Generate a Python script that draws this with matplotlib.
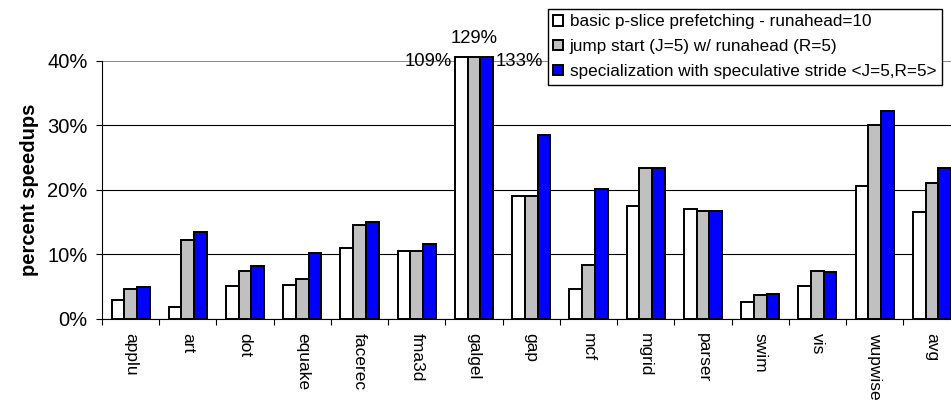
import numpy as np
import matplotlib.pyplot as plt
from matplotlib.ticker import PercentFormatter, FixedLocator

plt.rcParams['font.family'] = ['Liberation Sans', 'DejaVu Sans']

benchmarks = ["applu", "art", "dot", "equake", "facerec", "fma3d", "galgel",
              "gap", "mcf", "mgrid", "parser", "swim", "vis", "wupwise", "avg"]
basic = [2.9, 1.8, 5.1, 5.2, 10.9, 10.5, 109, 19.0, 4.65, 17.5, 17.0, 2.65, 5.0, 20.5, 16.6]
jump = [4.65, 12.2, 7.45, 6.1, 14.5, 10.5, 129, 19.0, 8.3, 23.4, 16.75, 3.7, 7.45, 30.1, 21.0]
special = [4.9, 13.4, 8.1, 10.2, 15.0, 11.6, 133, 28.5, 20.1, 23.4, 16.75, 3.9, 7.2, 32.2, 23.4]

series_names = ["basic p-slice prefetching - runahead=10",
                "jump start (J=5) w/ runahead (R=5)",
                "specialization with speculative stride <J=5,R=5>"]
colors = ["white", "#c0c0c0", "#0000ff"]

fig = plt.figure(figsize=(9.51, 4.04), dpi=100)
ax = fig.add_axes([102 / 951, 1 - 318.7 / 404, 858.5 / 951, 258 / 404])

x = np.arange(len(benchmarks))
w = 0.222
ytop = 40
clip_top = 40.5  # bars that go off the scale stop just above the top line

for i, vals in enumerate([basic, jump, special]):
    vals = np.array(vals, dtype=float)
    ax.bar(x + (i - 1) * w, np.minimum(vals, clip_top), w, color=colors[i],
           edgecolor="black", linewidth=1.4, label=series_names[i],
           zorder=3, clip_on=False)

# labels for the off-scale galgel bars
g = benchmarks.index("galgel")
afs = 13.3
ax.text(x[g] - 1.5 * w - 0.05, ytop - 0.2, f"{basic[g]:g}%", ha="right", va="center", fontsize=afs, zorder=4)
ax.text(x[g], ytop + 3.5, f"{jump[g]:g}%", ha="center", va="center", fontsize=afs, clip_on=False)
ax.text(x[g] + 1.5 * w + 0.05, ytop - 0.2, f"{special[g]:g}%", ha="left", va="center", fontsize=afs, zorder=4)

ax.set_xlim(-0.5, len(benchmarks) - 0.5)
ax.set_ylim(0, ytop)
ax.set_yticks([0, 10, 20, 30, 40])
ax.yaxis.set_major_formatter(PercentFormatter(xmax=100, decimals=0))
ax.grid(axis="y", color="black", linewidth=0.8, zorder=0)
ax.get_ygridlines()[-1].set_color("#808080")
ax.get_ygridlines()[-1].set_linewidth(1.3)
ax.set_axisbelow(True)

ax.set_xticks(x)
ax.set_xticklabels(benchmarks, rotation=270, fontsize=12.5)
ax.xaxis.set_minor_locator(FixedLocator(np.arange(len(benchmarks) + 1) - 0.5))
ax.tick_params(axis="x", which="major", length=0, pad=10.5)
ax.tick_params(axis="x", which="minor", length=4.5, width=0.8, direction="out")
ax.tick_params(axis="y", length=4.5, width=0.8, direction="out", pad=6, labelsize=14.5)

for s in ["top", "right"]:
    ax.spines[s].set_visible(False)
ax.spines["left"].set_linewidth(0.8)
ax.spines["bottom"].set_linewidth(0.8)

ax.set_ylabel("percent speedups", fontsize=14.5, fontweight="bold", labelpad=6)

leg = fig.legend(loc="upper left", bbox_to_anchor=(548 / 951, 1 - 9 / 404),
                 fontsize=12.3, frameon=True, fancybox=False, framealpha=1,
                 edgecolor="black", borderpad=0.32, labelspacing=0.58,
                 handlelength=0.55, handleheight=0.55, handletextpad=0.4,
                 borderaxespad=0)
leg.get_frame().set_linewidth(1.0)

fig.savefig("out.png", dpi=100)
